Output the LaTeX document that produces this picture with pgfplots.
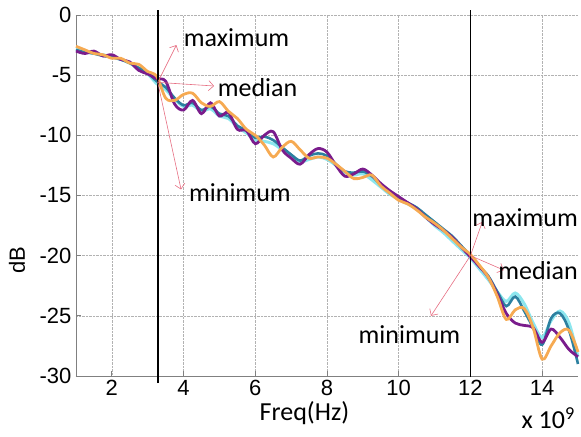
\documentclass[border=0pt]{standalone}
\usepackage{pgfplots}
\pgfplotsset{compat=1.18}
\usepackage{pgfplotstable}
\usepackage{fontspec}
\setmainfont{Liberation Sans}
\newfontfamily\calfont{Carlito}
\usetikzlibrary{arrows.meta}
\definecolor{cpurple}{RGB}{122,28,140}
\definecolor{cteal}{RGB}{44,128,160}
\definecolor{ccyan}{RGB}{140,230,238}
\definecolor{corange}{RGB}{246,170,82}
\definecolor{carrow}{RGB}{230,110,130}
\pgfplotstableread{
f cyan teal purple orange
1.00 -2.8 -2.9 -3.0 -2.6
1.25 -3.0 -3.1 -3.2 -2.9
1.50 -3.2 -3.2 -3.0 -3.2
1.75 -3.3 -3.4 -3.4 -3.3
2.00 -3.5 -3.5 -3.3 -3.6
2.25 -3.7 -3.7 -3.7 -3.6
2.50 -4.0 -4.0 -3.9 -4.0
2.75 -4.5 -4.4 -4.6 -4.1
3.00 -4.9 -4.8 -4.9 -4.7
3.25 -5.7 -5.5 -5.3 -5.1
3.50 -6.2 -6.0 -5.5 -6.9
3.75 -7.0 -6.9 -7.4 -7.1
4.00 -7.6 -7.5 -7.9 -6.6
4.25 -7.5 -7.3 -7.1 -6.5
4.50 -8.0 -7.9 -8.2 -7.3
4.75 -7.8 -7.6 -7.3 -7.6
5.00 -8.4 -8.2 -8.4 -7.2
5.25 -8.6 -8.4 -8.1 -8.0
5.50 -9.3 -9.2 -9.5 -8.6
5.75 -9.8 -9.6 -9.6 -9.5
6.00 -10.4 -10.2 -10.7 -10.0
6.25 -10.5 -10.1 -10.0 -10.8
6.50 -10.7 -10.4 -9.7 -11.8
6.75 -11.2 -11.0 -11.2 -11.0
7.00 -11.7 -11.6 -11.9 -10.5
7.25 -12.2 -12.1 -12.4 -11.2
7.50 -12.0 -11.7 -11.6 -11.9
7.75 -11.8 -11.5 -11.1 -11.8
8.00 -12.0 -11.7 -11.4 -11.9
8.25 -12.5 -12.4 -12.5 -12.4
8.50 -13.1 -13.0 -13.4 -13.0
8.75 -13.3 -13.1 -13.2 -13.6
9.00 -13.2 -13.0 -12.8 -13.5
9.25 -13.7 -13.4 -13.3 -13.3
9.50 -14.3 -14.1 -14.0 -14.2
9.75 -14.9 -14.8 -14.6 -14.8
10.00 -15.3 -15.3 -15.1 -15.4
10.25 -15.7 -15.6 -15.6 -15.7
10.50 -16.1 -16.0 -16.1 -16.2
10.75 -16.8 -16.6 -16.8 -16.8
11.00 -17.5 -17.2 -17.4 -17.3
11.25 -18.1 -17.8 -17.9 -17.9
11.50 -18.8 -18.4 -18.5 -18.6
11.75 -19.5 -19.2 -19.3 -19.3
12.00 -20.2 -20.0 -20.1 -19.9
12.25 -21.1 -20.9 -20.9 -20.8
12.50 -22.0 -21.7 -21.8 -21.8
12.75 -23.0 -23.0 -23.2 -23.4
13.00 -23.8 -24.2 -24.8 -25.3
13.25 -23.1 -23.4 -25.6 -24.5
13.50 -24.0 -24.6 -25.8 -24.4
13.75 -25.6 -26.0 -26.0 -26.0
14.00 -26.8 -27.4 -27.2 -28.6
14.25 -25.4 -25.2 -26.1 -27.5
14.50 -24.6 -24.8 -26.8 -26.4
14.75 -25.6 -26.2 -27.8 -26.2
15.00 -28.4 -29.0 -28.4 -28.0
}\datatable
\begin{document}
\begin{tikzpicture}
\begin{axis}[
  width=502pt, height=361pt, scale only axis,
  xmin=1, xmax=15, ymin=-30, ymax=0,
  axis x line*=bottom, axis y line*=left,
  xtick={2,4,6,8,10,12,14},
  xticklabels={2,4,6,8,10,12,14},
  ytick={-30,-25,-20,-15,-10,-5,0},
  yticklabels={-30,-25,-20,-15,-10,-5,0},
  grid=major,
  major grid style={densely dotted, gray!60, line width=0.6pt},
  axis line style={gray, line width=0.9pt},
  tick style={gray, line width=0.8pt},
  tick align=inside, major tick length=5pt,
  tick label style={font=\fontsize{22}{24}\selectfont},
  xticklabel style={yshift=-1pt},
  yticklabel style={xshift=-1pt},
  clip=false,
]
\addplot[ccyan, line width=3pt, smooth, tension=0.55] table[x=f, y=cyan] {\datatable};
\addplot[cteal, line width=2.6pt, smooth, tension=0.55] table[x=f, y=teal] {\datatable};
\addplot[cpurple, line width=2.8pt, smooth, tension=0.55] table[x=f, y=purple] {\datatable};
\addplot[corange, line width=2.8pt, smooth, tension=0.55] table[x=f, y=orange] {\datatable};
\addplot[black, line width=1.6pt] coordinates {(3.28,-30.6) (3.28,0.4)};
\addplot[black, line width=1.6pt] coordinates {(12,-30.1) (12,0.4)};
% annotations
\draw[carrow, line width=0.6pt, -{Straight Barb[length=5pt]}] (axis cs:3.28,-5.6) -- (axis cs:3.8,-2.5);
\draw[carrow, line width=0.6pt, -{Straight Barb[length=5pt]}] (axis cs:3.28,-5.6) -- (axis cs:4.85,-5.9);
\draw[carrow, line width=0.6pt, -{Straight Barb[length=5pt]}] (axis cs:3.28,-5.6) -- (axis cs:3.93,-14.5);
\node[anchor=west, font=\calfont\fontsize{26}{30}\selectfont, inner sep=0pt] at (axis cs:4.0,-1.85) {maximum};
\node[anchor=west, font=\calfont\fontsize{26}{30}\selectfont, inner sep=0pt] at (axis cs:4.95,-6.0) {median};
\node[anchor=west, font=\calfont\fontsize{26}{30}\selectfont, inner sep=0pt] at (axis cs:4.15,-14.8) {minimum};
\draw[carrow, line width=0.6pt, -{Straight Barb[length=5pt]}] (axis cs:12,-20) -- (axis cs:12.33,-17.2);
\draw[carrow, line width=0.6pt, -{Straight Barb[length=5pt]}] (axis cs:12,-20) -- (axis cs:12.93,-21.2);
\draw[carrow, line width=0.6pt, -{Straight Barb[length=5pt]}] (axis cs:12,-20) -- (axis cs:10.9,-25.0);
\node[anchor=east, font=\calfont\fontsize{26}{30}\selectfont, inner sep=0pt] at (axis cs:15.0,-16.8) {maximum};
\node[anchor=east, font=\calfont\fontsize{26}{30}\selectfont, inner sep=0pt] at (axis cs:15.0,-21.25) {median};
\node[font=\calfont\fontsize{26}{30}\selectfont, inner sep=0pt] at (axis cs:10.3,-26.6) {minimum};
% axis labels
\node[font=\calfont\fontsize{26}{30}\selectfont, inner sep=0pt, anchor=base] at ([yshift=-45pt]axis cs:7.37,-30) {Freq(Hz)};
\node[font=\calfont\fontsize{26}{30}\selectfont, inner sep=0pt, anchor=base east] at ([yshift=-53pt, xshift=-3pt]axis cs:15,-30) {x 10\textsuperscript{9}};
\node[rotate=90, font=\fontsize{22}{24}\selectfont, inner sep=0pt] at ([xshift=-59pt]axis cs:1,-20.4) {dB};
\coordinate (ll) at (axis cs:1,-30);
\coordinate (ur) at (axis cs:15,0);
\end{axis}
\pgfresetboundingbox
\path ([xshift=-76pt,yshift=-61pt]ll) rectangle ([xshift=3pt,yshift=15pt]ur);
\end{tikzpicture}
\end{document}
